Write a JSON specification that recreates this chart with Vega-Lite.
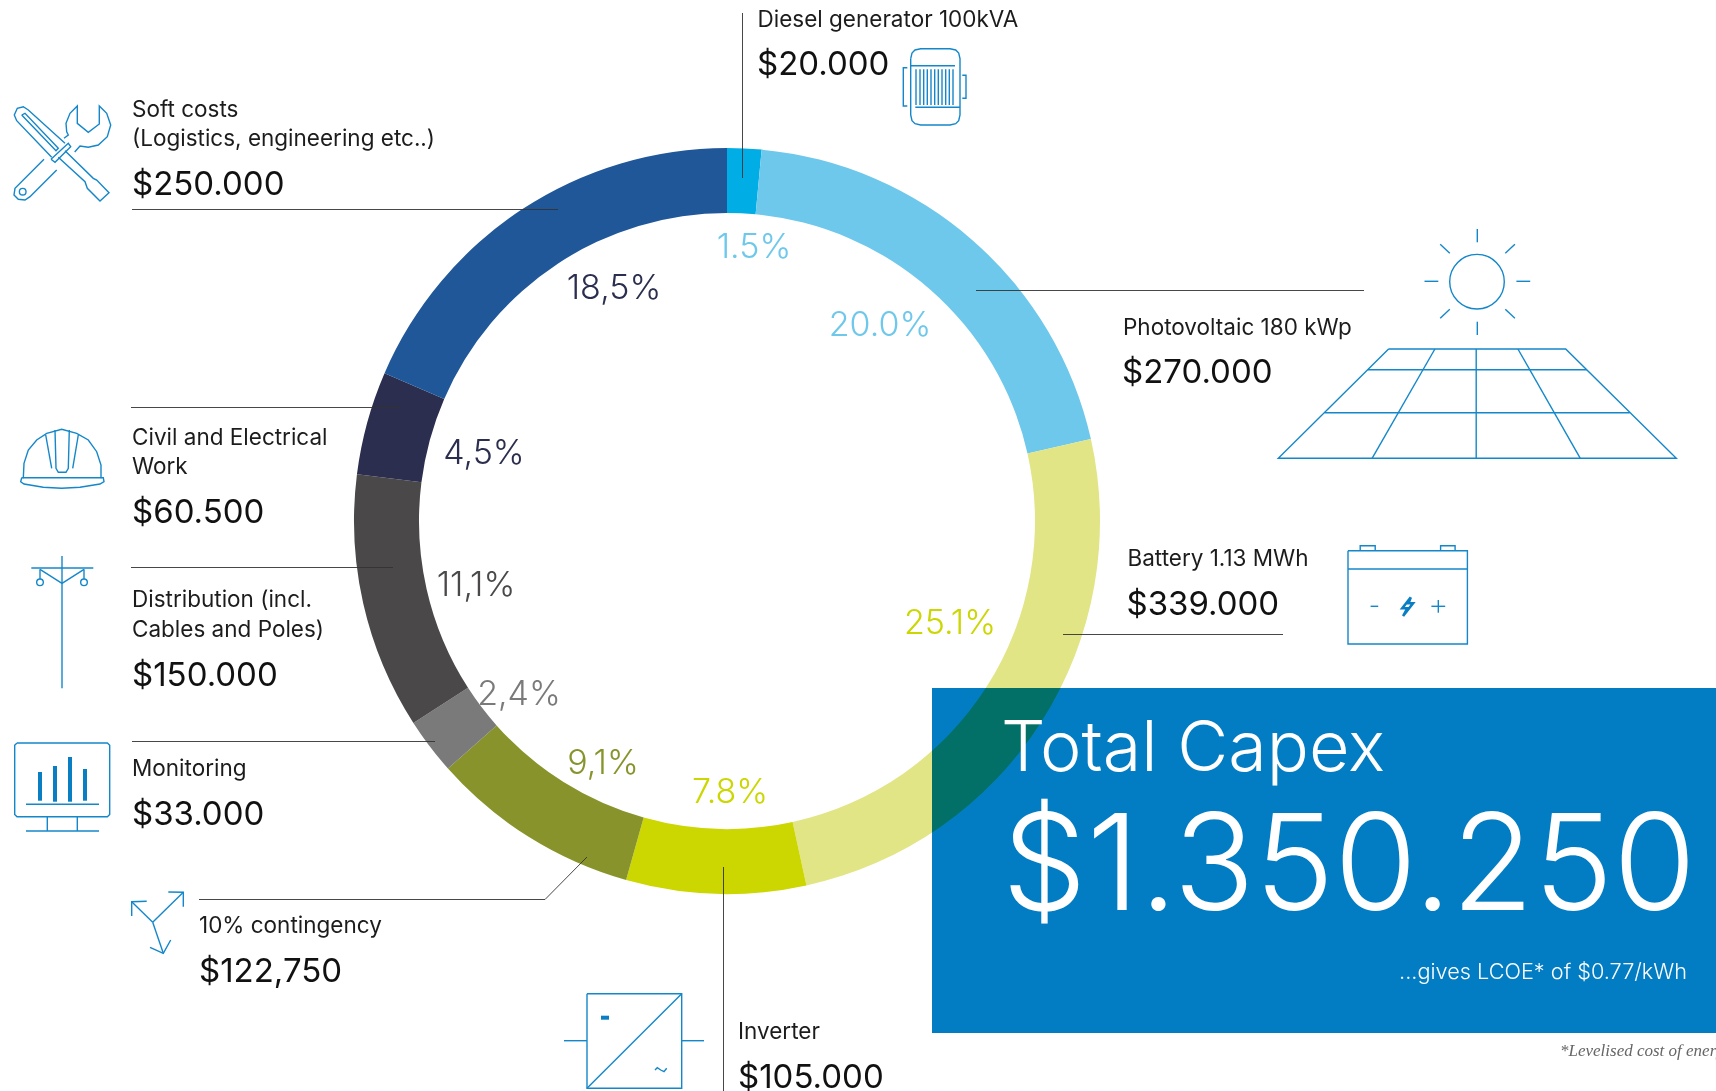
{"$schema":"https://vega.github.io/schema/vega-lite/v6.json","width":1716,"height":1091,"padding":0,"autosize":{"type":"none"},"background":"#ffffff","config":{"view":{"stroke":null}},
"datasets":{
"costs":[{"segment":"Diesel generator 100kVA","tone":"diesel","cost":20000,"rank":1},{"segment":"Photovoltaic 180 kWp","tone":"pv","cost":270000,"rank":2},{"segment":"Battery 1.13 MWh","tone":"battery","cost":339000,"rank":3},{"segment":"Inverter","tone":"inverter","cost":105000,"rank":4},{"segment":"10% contingency","tone":"contingency","cost":122750,"rank":5},{"segment":"Monitoring","tone":"monitoring","cost":33000,"rank":6},{"segment":"Distribution","tone":"distribution","cost":150000,"rank":7},{"segment":"Civil and Electrical Work","tone":"civil","cost":60500,"rank":8},{"segment":"Soft costs","tone":"soft","cost":250000,"rank":9}],
"box":[{"x":932,"y":688,"x2":1716,"y2":1033}],
"leaders":[{"x":132,"y":209.5,"x2":558,"y2":209.5},{"x":131,"y":407.5,"x2":400,"y2":407.5},{"x":131,"y":567.5,"x2":393,"y2":567.5},{"x":132,"y":741.5,"x2":435,"y2":741.5},{"x":199,"y":899.5,"x2":545,"y2":899.5},{"x":545,"y":899.5,"x2":587,"y2":857},{"x":723.5,"y":867,"x2":723.5,"y2":1091},{"x":742.5,"y":13,"x2":742.5,"y2":178},{"x":976,"y":290.5,"x2":1364,"y2":290.5},{"x":1063,"y":634.5,"x2":1283,"y2":634.5}],
"segs":[{"x":1477.3,"y":229,"x2":1477.3,"y2":242.3},{"x":1477.3,"y":321.7,"x2":1477.3,"y2":335},{"x":1424.5,"y":281.3,"x2":1438.3,"y2":281.3},{"x":1516.4,"y":281.3,"x2":1530.2,"y2":281.3},{"x":1440.2,"y":244.3,"x2":1449.8,"y2":253.3},{"x":1514.9,"y":244.3,"x2":1505.3,"y2":253.3},{"x":1440.2,"y":318.3,"x2":1449.8,"y2":309.3},{"x":1514.9,"y":318.3,"x2":1505.3,"y2":309.3},
{"x":1367.9,"y":369.7,"x2":1586.8,"y2":369.7},{"x":1324.6,"y":412.7,"x2":1629.7,"y2":412.7},{"x":1434.9,"y":349,"x2":1372.1,"y2":458.3},{"x":1476.2,"y":349,"x2":1476.2,"y2":458.3},{"x":1517.9,"y":349,"x2":1580.3,"y2":458.3},
{"x":1348,"y":569,"x2":1467.4,"y2":569},{"x":1370.6,"y":606.3,"x2":1378.2,"y2":606.3},{"x":1431.4,"y":606.3,"x2":1445.2,"y2":606.3},{"x":1438.3,"y":600,"x2":1438.3,"y2":612.7},
{"x":910.7,"y":65.7,"x2":955,"y2":65.7},{"x":915.3,"y":107.3,"x2":960,"y2":107.3},{"x":916,"y":69.3,"x2":916,"y2":105},{"x":920,"y":69.3,"x2":920,"y2":105},{"x":923.7,"y":69.3,"x2":923.7,"y2":105},{"x":927.3,"y":69.3,"x2":927.3,"y2":105},{"x":931,"y":69.3,"x2":931,"y2":105},{"x":934.7,"y":69.3,"x2":934.7,"y2":105},{"x":938.3,"y":69.3,"x2":938.3,"y2":105},{"x":942,"y":69.3,"x2":942,"y2":105},{"x":945.7,"y":69.3,"x2":945.7,"y2":105},{"x":949.3,"y":69.3,"x2":949.3,"y2":105},{"x":953,"y":69.3,"x2":953,"y2":105},
{"x":45.7,"y":435,"x2":51.7,"y2":468.3},{"x":78.3,"y":435,"x2":72.7,"y2":468.3},
{"x":62,"y":556,"x2":62,"y2":688.3},{"x":31.3,"y":568,"x2":93.3,"y2":568},{"x":40,"y":569.3,"x2":40,"y2":579},{"x":84,"y":569.3,"x2":84,"y2":579},
{"x":26,"y":804.3,"x2":99,"y2":804.3},{"x":47.3,"y":816.7,"x2":47.3,"y2":831},{"x":77.3,"y":816.7,"x2":77.3,"y2":831},{"x":26,"y":831,"x2":99,"y2":831},
{"x":152.7,"y":922.3,"x2":183.3,"y2":892.3},{"x":152.7,"y":922.3,"x2":131.7,"y2":901.7},{"x":152.7,"y":922.3,"x2":163.3,"y2":953.3},
{"x":587,"y":1088.3,"x2":681.7,"y2":993.7},{"x":564,"y":1040.7,"x2":587,"y2":1040.7},{"x":681.7,"y":1040.7,"x2":704,"y2":1040.7}],
"bars":[{"x":40,"y":772,"x2":40,"y2":800.7},{"x":55,"y":766,"x2":55,"y2":801.7},{"x":70,"y":757,"x2":70,"y2":801.7},{"x":85,"y":769,"x2":85,"y2":800.7},{"x":601,"y":1017.7,"x2":609,"y2":1017.7}],
"rings":[{"x":1477,"y":281.7,"ring":"sun"}],
"dots":[{"x":40,"y":582.3},{"x":84,"y":582.3},{"x":22.7,"y":191.7}],
"bolt":[{"p":"bolt","i":0,"x":1410.8,"y":597.3},{"p":"bolt","i":1,"x":1402.3,"y":608.3},{"p":"bolt","i":2,"x":1407.3,"y":608.3},{"p":"bolt","i":3,"x":1403.1,"y":616},{"p":"bolt","i":4,"x":1413,"y":603.3},{"p":"bolt","i":5,"x":1408.5,"y":603.3},{"p":"bolt","i":6,"x":1410.8,"y":597.3}],
"polys":[
{"p":"panel","i":0,"x":1388.6,"y":349},{"p":"panel","i":1,"x":1565.7,"y":349},{"p":"panel","i":2,"x":1676.3,"y":458.3},{"p":"panel","i":3,"x":1278.3,"y":458.3},{"p":"panel","i":4,"x":1388.6,"y":349},
{"p":"bat","i":0,"x":1348,"y":550.7},{"p":"bat","i":1,"x":1467.4,"y":550.7},{"p":"bat","i":2,"x":1467.4,"y":644},{"p":"bat","i":3,"x":1348,"y":644},{"p":"bat","i":4,"x":1348,"y":550.7},
{"p":"t1","i":0,"x":1360.2,"y":550.7},{"p":"t1","i":1,"x":1360.2,"y":545.7},{"p":"t1","i":2,"x":1375.2,"y":545.7},{"p":"t1","i":3,"x":1375.2,"y":550.7},
{"p":"t2","i":0,"x":1440.6,"y":550.7},{"p":"t2","i":1,"x":1440.6,"y":545.7},{"p":"t2","i":2,"x":1455.1,"y":545.7},{"p":"t2","i":3,"x":1455.1,"y":550.7},
{"p":"gen","i":0,"x":910.7,"y":58.7},{"p":"gen","i":1,"x":912,"y":53},{"p":"gen","i":2,"x":915,"y":50},{"p":"gen","i":3,"x":920.7,"y":48.7},{"p":"gen","i":4,"x":950,"y":48.7},{"p":"gen","i":5,"x":955.7,"y":50},{"p":"gen","i":6,"x":958.7,"y":53},{"p":"gen","i":7,"x":960,"y":58.7},{"p":"gen","i":8,"x":960,"y":115},{"p":"gen","i":9,"x":958.7,"y":120.7},{"p":"gen","i":10,"x":955.7,"y":123.7},{"p":"gen","i":11,"x":950,"y":125},{"p":"gen","i":12,"x":920.7,"y":125},{"p":"gen","i":13,"x":915,"y":123.7},{"p":"gen","i":14,"x":912,"y":120.7},{"p":"gen","i":15,"x":910.7,"y":115},{"p":"gen","i":16,"x":910.7,"y":58.7},
{"p":"bl","i":0,"x":907.3,"y":67.7},{"p":"bl","i":1,"x":903.3,"y":67.7},{"p":"bl","i":2,"x":903.3,"y":106},{"p":"bl","i":3,"x":907.3,"y":106},
{"p":"br","i":0,"x":962.3,"y":75.3},{"p":"br","i":1,"x":966,"y":75.3},{"p":"br","i":2,"x":966,"y":98.3},{"p":"br","i":3,"x":962.3,"y":98.3},
{"p":"h1","i":0,"x":65,"y":143.3},{"p":"h1","i":1,"x":28.3,"y":110},{"p":"h1","i":2,"x":23.3,"y":106.7},{"p":"h1","i":3,"x":17.3,"y":108.3},{"p":"h1","i":4,"x":14.3,"y":115},{"p":"h1","i":5,"x":16.7,"y":120.7},{"p":"h1","i":6,"x":51.7,"y":157.3},
{"p":"slot","i":0,"x":21.7,"y":115},{"p":"slot","i":1,"x":25,"y":113.3},{"p":"slot","i":2,"x":58.3,"y":148.3},{"p":"slot","i":3,"x":56,"y":150.7},{"p":"slot","i":4,"x":21.7,"y":115},
{"p":"col","i":0,"x":51,"y":159.3},{"p":"col","i":1,"x":55,"y":162.3},{"p":"col","i":2,"x":70.7,"y":146.7},{"p":"col","i":3,"x":68.3,"y":143.3},{"p":"col","i":4,"x":51,"y":159.3},
{"p":"tip","i":0,"x":65,"y":150.7},{"p":"tip","i":1,"x":93.3,"y":178.3},{"p":"tip","i":2,"x":96.7,"y":180},{"p":"tip","i":3,"x":109,"y":192.7},{"p":"tip","i":4,"x":100,"y":201},{"p":"tip","i":5,"x":87.3,"y":188.3},{"p":"tip","i":6,"x":85,"y":181.7},{"p":"tip","i":7,"x":58.3,"y":157.3},
{"p":"wr","i":0,"x":74.7,"y":152},{"p":"wr","i":1,"x":80,"y":146},{"p":"wr","i":2,"x":88.3,"y":147.3},{"p":"wr","i":3,"x":98.3,"y":145},{"p":"wr","i":4,"x":107.3,"y":136.7},{"p":"wr","i":5,"x":110.7,"y":125},{"p":"wr","i":6,"x":106.7,"y":113.3},{"p":"wr","i":7,"x":99.3,"y":106},{"p":"wr","i":8,"x":99.3,"y":124},{"p":"wr","i":9,"x":88.3,"y":132.3},{"p":"wr","i":10,"x":77.3,"y":123.3},{"p":"wr","i":11,"x":77.3,"y":106},{"p":"wr","i":12,"x":70,"y":113.3},{"p":"wr","i":13,"x":66,"y":123.3},{"p":"wr","i":14,"x":66.7,"y":131.7},{"p":"wr","i":15,"x":68.3,"y":135},{"p":"wr","i":16,"x":64,"y":138.3},
{"p":"wh","i":0,"x":44,"y":159.3},{"p":"wh","i":1,"x":15,"y":188.3},{"p":"wh","i":2,"x":14,"y":195},{"p":"wh","i":3,"x":18.3,"y":199.3},{"p":"wh","i":4,"x":25,"y":200},{"p":"wh","i":5,"x":30,"y":196.7},{"p":"wh","i":6,"x":56.7,"y":170},
{"p":"dome","i":0,"x":23.3,"y":478.3},{"p":"dome","i":1,"x":24,"y":463.3},{"p":"dome","i":2,"x":28.3,"y":450},{"p":"dome","i":3,"x":36.7,"y":440},{"p":"dome","i":4,"x":46.7,"y":433.3},{"p":"dome","i":5,"x":61.7,"y":429.3},{"p":"dome","i":6,"x":76.7,"y":433.3},{"p":"dome","i":7,"x":88.3,"y":440},{"p":"dome","i":8,"x":96.7,"y":451.7},{"p":"dome","i":9,"x":101,"y":465},{"p":"dome","i":10,"x":101,"y":478.3},
{"p":"brim","i":0,"x":21.7,"y":477.7},{"p":"brim","i":1,"x":103.3,"y":477.7},{"p":"brim","i":2,"x":104,"y":481.7},{"p":"brim","i":3,"x":100,"y":484},{"p":"brim","i":4,"x":80,"y":487.3},{"p":"brim","i":5,"x":61.7,"y":488.3},{"p":"brim","i":6,"x":43.3,"y":487.3},{"p":"brim","i":7,"x":24,"y":484},{"p":"brim","i":8,"x":20.7,"y":481.7},{"p":"brim","i":9,"x":21.7,"y":477.7},
{"p":"band","i":0,"x":55,"y":430},{"p":"band","i":1,"x":56,"y":468.3},{"p":"band","i":2,"x":58.3,"y":472.3},{"p":"band","i":3,"x":66,"y":472.3},{"p":"band","i":4,"x":68.3,"y":468.3},{"p":"band","i":5,"x":69.3,"y":430},
{"p":"brace","i":0,"x":40,"y":569.3},{"p":"brace","i":1,"x":62,"y":583.3},{"p":"brace","i":2,"x":84,"y":569.3},
{"p":"mon","i":0,"x":17,"y":743},{"p":"mon","i":1,"x":107.4,"y":743},{"p":"mon","i":2,"x":109.7,"y":745.3},{"p":"mon","i":3,"x":109.7,"y":814.4},{"p":"mon","i":4,"x":107.4,"y":816.7},{"p":"mon","i":5,"x":17,"y":816.7},{"p":"mon","i":6,"x":14.7,"y":814.4},{"p":"mon","i":7,"x":14.7,"y":745.3},{"p":"mon","i":8,"x":17,"y":743},
{"p":"a1","i":0,"x":168.3,"y":892},{"p":"a1","i":1,"x":183.3,"y":892.3},{"p":"a1","i":2,"x":183.3,"y":906.7},
{"p":"a2","i":0,"x":146.7,"y":901.3},{"p":"a2","i":1,"x":131.7,"y":901.7},{"p":"a2","i":2,"x":131.7,"y":916},
{"p":"a3","i":0,"x":150,"y":947.3},{"p":"a3","i":1,"x":163.3,"y":953.3},{"p":"a3","i":2,"x":170.7,"y":940},
{"p":"inv","i":0,"x":587,"y":993.7},{"p":"inv","i":1,"x":681.7,"y":993.7},{"p":"inv","i":2,"x":681.7,"y":1088.3},{"p":"inv","i":3,"x":587,"y":1088.3},{"p":"inv","i":4,"x":587,"y":993.7},
{"p":"tilde","i":0,"x":655,"y":1070},{"p":"tilde","i":1,"x":657.3,"y":1067.7},{"p":"tilde","i":2,"x":660.7,"y":1070},{"p":"tilde","i":3,"x":664,"y":1071.7},{"p":"tilde","i":4,"x":666.7,"y":1068.3}],
"names":[{"t":"Diesel generator 100kVA","x":757.5,"y":27},{"t":"Soft costs","x":132,"y":117},{"t":"(Logistics, engineering etc..)","x":132,"y":146},{"t":"Civil and Electrical","x":132,"y":445},{"t":"Work","x":132,"y":474},{"t":"Distribution (incl.","x":132,"y":607},{"t":"Cables and Poles)","x":132,"y":637},{"t":"Monitoring","x":132,"y":776},{"t":"10% contingency","x":199,"y":933},{"t":"Inverter","x":738,"y":1039},{"t":"Photovoltaic 180 kWp","x":1123,"y":335},{"t":"Battery 1.13 MWh","x":1127.5,"y":566}],
"values":[{"t":"$20.000","x":757,"y":75},{"t":"$250.000","x":132,"y":195},{"t":"$60.500","x":132,"y":523},{"t":"$150.000","x":132,"y":686},{"t":"$33.000","x":132,"y":825},{"t":"$122,750","x":199,"y":982},{"t":"$105.000","x":738,"y":1088},{"t":"$270.000","x":1122,"y":383},{"t":"$339.000","x":1126.5,"y":615}],
"pcts":[{"t":"1.5%","x":754,"y":248,"tone":"pv"},{"t":"20.0%","x":880,"y":326,"tone":"pv"},{"t":"25.1%","x":950,"y":624,"tone":"inverter"},{"t":"7.8%","x":730,"y":793,"tone":"inverter"},{"t":"9,1%","x":603,"y":764,"tone":"contingency"},{"t":"2,4%","x":519,"y":695,"tone":"monitoring"},{"t":"11,1%","x":476,"y":586,"tone":"distribution"},{"t":"4,5%","x":484,"y":454,"tone":"civil"},{"t":"18,5%","x":614,"y":289,"tone":"civil"}],
"head":[{"t":"Total Capex","x":1001,"y":771}],
"total":[{"t":"$1.350.250","x":1002,"y":910}],
"lcoe":[{"t":"...gives LCOE* of $0.77/kWh","x":1687,"y":979}],
"note":[{"t":"*Levelised cost of energy","x":1560,"y":1056}]
},
"encoding":{"x":{"field":"x","type":"quantitative","scale":{"domain":[0,1716],"nice":false,"zero":false},"axis":null},"y":{"field":"y","type":"quantitative","scale":{"domain":[1091,0],"nice":false,"zero":false},"axis":null}},
"layer":[
{"data":{"name":"costs"},"mark":{"type":"arc","radius":373,"radius2":308,"x":727,"y":521},"encoding":{"x":null,"y":null,"theta":{"field":"cost","type":"quantitative"},"order":{"field":"rank","type":"quantitative"},"color":{"field":"tone","type":"nominal","legend":null,"scale":{"domain":["diesel","pv","battery","inverter","contingency","monitoring","distribution","civil","soft"],"range":["#00ADE5","#6EC8EB","#E1E585","#CCD600","#88942B","#7A7A7A","#4A4848","#2B2E4E","#1F5799"]}}}},
{"data":{"name":"box"},"mark":{"type":"rect","fill":"#027DC3","blend":"multiply"},"encoding":{"x2":{"field":"x2"},"y2":{"field":"y2"}}},
{"data":{"name":"leaders"},"mark":{"type":"rule","stroke":"#333333","strokeWidth":1,"opacity":0.9},"encoding":{"x2":{"field":"x2"},"y2":{"field":"y2"}}},
{"data":{"name":"segs"},"mark":{"type":"rule","stroke":"#1487CA","strokeWidth":1.4},"encoding":{"x2":{"field":"x2"},"y2":{"field":"y2"}}},
{"data":{"name":"bars"},"mark":{"type":"rule","stroke":"#0A7EC3","strokeWidth":4},"encoding":{"x2":{"field":"x2"},"y2":{"field":"y2"}}},
{"data":{"name":"polys"},"mark":{"type":"line","stroke":"#1487CA","strokeWidth":1.4},"encoding":{"detail":{"field":"p"},"order":{"field":"i","type":"quantitative"}}},
{"data":{"name":"bolt"},"mark":{"type":"line","stroke":"#0A7EC3","strokeWidth":2.6},"encoding":{"detail":{"field":"p"},"order":{"field":"i","type":"quantitative"}}},
{"data":{"name":"rings"},"mark":{"type":"point","filled":false,"stroke":"#1487CA","strokeWidth":1.4,"size":2981,"opacity":1}},
{"data":{"name":"dots"},"mark":{"type":"point","filled":false,"stroke":"#1487CA","strokeWidth":1.4,"size":44,"opacity":1}},
{"data":{"name":"names"},"mark":{"type":"text","align":"left","baseline":"alphabetic","font":"Inter","fontSize":22.5,"fill":"#1c1c1c"},"encoding":{"text":{"field":"t"}}},
{"data":{"name":"values"},"mark":{"type":"text","align":"left","baseline":"alphabetic","font":"Inter","fontSize":33,"fill":"#111111"},"encoding":{"text":{"field":"t"}}},
{"data":{"name":"pcts"},"mark":{"type":"text","align":"center","baseline":"middle","font":"Inter","fontSize":34,"fontWeight":300},"encoding":{"text":{"field":"t"},"color":{"field":"tone","type":"nominal","legend":null}}},
{"data":{"name":"head"},"mark":{"type":"text","align":"left","baseline":"alphabetic","font":"Inter","fontSize":70,"fontWeight":300,"fill":"#ffffff"},"encoding":{"text":{"field":"t"}}},
{"data":{"name":"total"},"mark":{"type":"text","align":"left","baseline":"alphabetic","font":"Inter","fontSize":134,"fontWeight":300,"fill":"#ffffff"},"encoding":{"text":{"field":"t"}}},
{"data":{"name":"lcoe"},"mark":{"type":"text","align":"right","baseline":"alphabetic","font":"Inter","fontSize":21.7,"fontWeight":300,"fill":"#ffffff"},"encoding":{"text":{"field":"t"}}},
{"data":{"name":"note"},"mark":{"type":"text","align":"left","baseline":"alphabetic","font":"Liberation Serif","fontStyle":"italic","fontSize":17,"fill":"#666666"},"encoding":{"text":{"field":"t"}}}
]}
